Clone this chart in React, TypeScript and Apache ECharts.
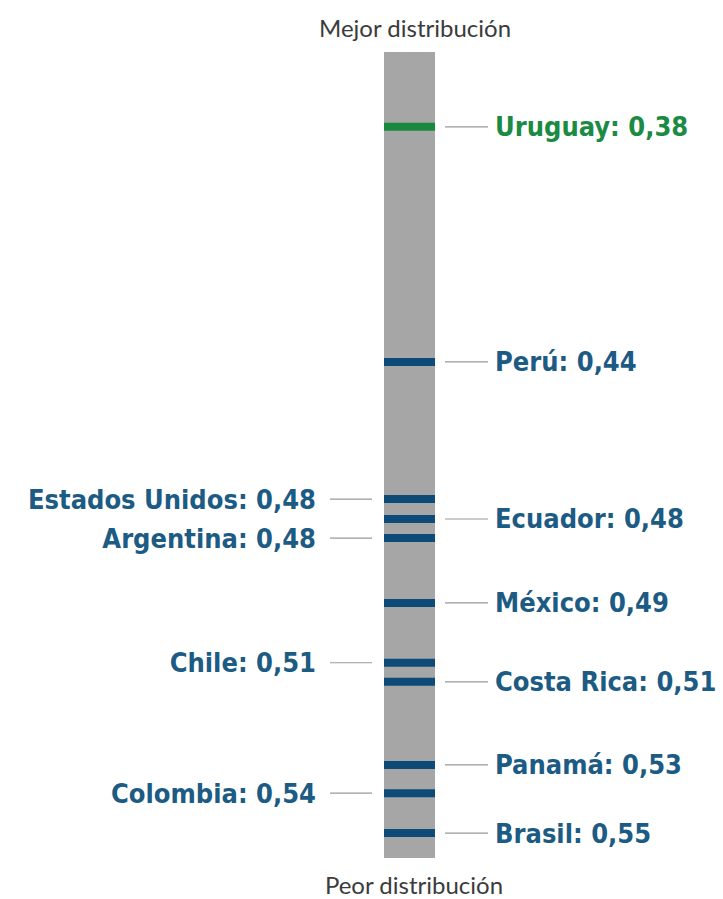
import React, { useEffect, useRef } from "react";
import * as echarts from "echarts";

const countries = ["Uruguay", "Perú", "Estados Unidos", "Ecuador", "Argentina", "México", "Chile", "Costa Rica", "Panamá", "Colombia", "Brasil"];
const giniLabels = ["0,38", "0,44", "0,48", "0,48", "0,48", "0,49", "0,51", "0,51", "0,53", "0,54", "0,55"];
// position of each marker along the scale (estimated unrounded index values)
const markerValues = [0.38, 0.4366, 0.4696, 0.4744, 0.479, 0.4946, 0.509, 0.5136, 0.5336, 0.5404, 0.55];
const labelSides = ["right", "right", "left", "right", "left", "right", "left", "right", "right", "left", "right"];
const highlighted = ["Uruguay"];
const scaleRange = [0.362, 0.556];
const topLabel = "Mejor distribución";
const bottomLabel = "Peor distribución";

export default function App() {
  const ref = useRef<HTMLDivElement>(null);
  useEffect(() => {
    document.body.style.margin = "0";
    const chart = echarts.init(ref.current!, null, { renderer: "svg" });
    const BAR_X = 409.5;
    const BAR_W = 51;
    const FONT = "'DejaVu Sans Condensed', 'DejaVu Sans', sans-serif";
    const TFONT = "Lato, sans-serif";
    const markerData = countries.map((c, i) => [BAR_X, markerValues[i], i]);
    chart.setOption({
      animation: false,
      backgroundColor: "#ffffff",
      grid: { left: 0, right: 0, top: 52, bottom: 41 },
      xAxis: { type: "value", min: 0, max: 723, show: false },
      yAxis: { type: "value", inverse: true, min: scaleRange[0], max: scaleRange[1], show: false },
      graphic: [
        { type: "text", x: 415, y: 27, style: { text: topLabel, align: "center", verticalAlign: "middle", fill: "#3b3b3b", fontSize: 24, fontFamily: TFONT } },
        { type: "text", x: 414, y: 884, style: { text: bottomLabel, align: "center", verticalAlign: "middle", fill: "#3b3b3b", fontSize: 24, fontFamily: TFONT } },
      ],
      series: [
        {
          type: "custom",
          silent: true,
          data: [[BAR_X, scaleRange[0], scaleRange[1]]],
          renderItem: (params: any, api: any) => {
            const p0 = api.coord([api.value(0), api.value(1)]);
            const p1 = api.coord([api.value(0), api.value(2)]);
            return {
              type: "rect",
              shape: { x: p0[0] - BAR_W / 2, y: p0[1], width: BAR_W, height: p1[1] - p0[1] },
              style: { fill: "#a6a6a6" },
            };
          },
        },
        {
          type: "custom",
          silent: true,
          data: markerData,
          renderItem: (params: any, api: any) => {
            const i = api.value(2);
            const p = api.coord([api.value(0), api.value(1)]);
            const x = p[0];
            const y = p[1];
            const name = countries[i];
            const isHi = highlighted.includes(name);
            const markColor = isHi ? "#17883d" : "#0e4a78";
            const textColor = isHi ? "#1b8a43" : "#1c5b84";
            const right = labelSides[i] === "right";
            const lineX1 = right ? x + BAR_W / 2 + 10 : x - BAR_W / 2 - 12;
            const lineX2 = right ? x + BAR_W / 2 + 53 : x - BAR_W / 2 - 54;
            const textX = right ? x + BAR_W / 2 + 60 : x - BAR_W / 2 - 68;
            return {
              type: "group",
              children: [
                { type: "rect", shape: { x: x - BAR_W / 2, y: y - 4, width: BAR_W, height: 8 }, style: { fill: markColor } },
                { type: "line", shape: { x1: lineX1, y1: y, x2: lineX2, y2: y }, style: { stroke: "#9a9a9a", lineWidth: 1.2 } },
                {
                  type: "text",
                  x: textX,
                  y: y,
                  style: {
                    text: `${name}: ${giniLabels[i]}`,
                    align: right ? "left" : "right",
                    verticalAlign: "middle",
                    fill: textColor,
                    fontSize: 27,
                    fontWeight: "bold",
                    fontFamily: FONT,
                  },
                },
              ],
            };
          },
        },
      ],
    });
    return () => chart.dispose();
  }, []);
  return <div ref={ref} style={{ width: 723, height: 899 }} />;
}
